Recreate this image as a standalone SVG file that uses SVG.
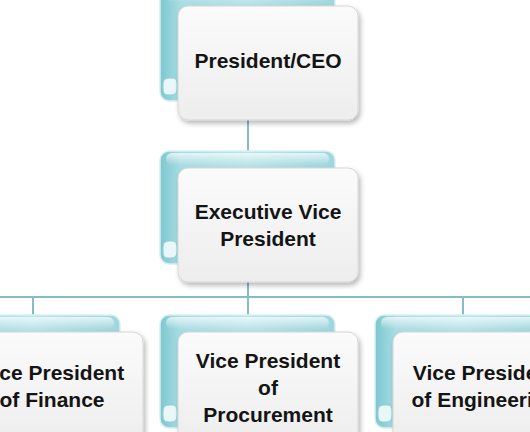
<svg xmlns="http://www.w3.org/2000/svg" width="530" height="432" viewBox="0 0 530 432">
  <defs>
    <linearGradient id="tealG" x1="0" y1="0" x2="1" y2="0">
      <stop offset="0" stop-color="#7cc7d0"/>
      <stop offset="0.12" stop-color="#a9dde3"/>
      <stop offset="0.5" stop-color="#b9e4e9"/>
      <stop offset="1" stop-color="#9fd6dd"/>
    </linearGradient>
    <linearGradient id="tealTop" x1="0" y1="0" x2="0" y2="1">
      <stop offset="0" stop-color="#ffffff" stop-opacity="0.7"/>
      <stop offset="1" stop-color="#ffffff" stop-opacity="0"/>
    </linearGradient>
    <linearGradient id="cardG" x1="0" y1="0" x2="0" y2="1">
      <stop offset="0" stop-color="#fbfbfb"/>
      <stop offset="1" stop-color="#ededed"/>
    </linearGradient>
    <filter id="shadow" x="-10%" y="-10%" width="125%" height="130%">
      <feDropShadow dx="2" dy="3" stdDeviation="2.5" flood-color="#000000" flood-opacity="0.28"/>
    </filter>
    <g id="back">
      <rect x="0" y="0" width="175" height="113" rx="9" fill="url(#tealG)" stroke="#d9f1f3" stroke-width="1.5"/>
      <rect x="6" y="2" width="163" height="12" rx="6" fill="url(#tealTop)"/>
      <path d="M3 96 q0 -6 6 -6 h4 q4 0 4 6 v5 q0 6 -6 6 h-3 q-5 0 -5 -6 z" fill="#e9f7f8" stroke="#8ccfd7" stroke-width="1"/>
    </g>
    <g id="front">
      <rect x="0" y="0" width="180" height="114" rx="10" fill="url(#cardG)" stroke="#d6d6d6" stroke-width="1" filter="url(#shadow)"/>
    </g>
  </defs>
  <style>
    .conn { stroke: #86bcc4; stroke-width: 2; fill: none; }
    .lbl { font-family: "Liberation Sans", Arial, sans-serif; font-weight: bold; font-size: 21px; fill: #141414; text-anchor: middle; }
  </style>
  <rect width="530" height="432" fill="#ffffff"/>

  <g id="connectors">
    <line class="conn" x1="248" y1="118" x2="248" y2="168"/>
    <line class="conn" x1="248" y1="280" x2="248" y2="297"/>
    <line class="conn" x1="0" y1="297" x2="530" y2="297"/>
    <line class="conn" x1="33" y1="297" x2="33" y2="316"/>
    <line class="conn" x1="248" y1="297" x2="248" y2="316"/>
    <line class="conn" x1="463" y1="297" x2="463" y2="316"/>
  </g>

  <g id="president">
    <use href="#back" x="160" y="-12"/>
    <use href="#front" x="178" y="6"/>
    <text class="lbl" x="268" y="68">President/CEO</text>
  </g>

  <g id="evp">
    <use href="#back" x="160" y="151"/>
    <use href="#front" x="178" y="168"/>
    <text class="lbl" x="268" y="219">Executive Vice</text>
    <text class="lbl" x="268" y="246">President</text>
  </g>

  <g id="vp-finance">
    <use href="#back" x="-55" y="315"/>
    <use href="#front" x="-37" y="332"/>
    <text class="lbl" x="52" y="380">Vice President</text>
    <text class="lbl" x="52" y="407">of Finance</text>
  </g>

  <g id="vp-procurement">
    <use href="#back" x="160" y="315"/>
    <use href="#front" x="178" y="332"/>
    <text class="lbl" x="268" y="368">Vice President</text>
    <text class="lbl" x="268" y="395">of</text>
    <text class="lbl" x="268" y="422">Procurement</text>
  </g>

  <g id="vp-engineering">
    <use href="#back" x="375" y="315"/>
    <use href="#front" x="393" y="332"/>
    <text class="lbl" x="485" y="380">Vice President</text>
    <text class="lbl" x="485" y="407">of Engineering</text>
  </g>
</svg>
